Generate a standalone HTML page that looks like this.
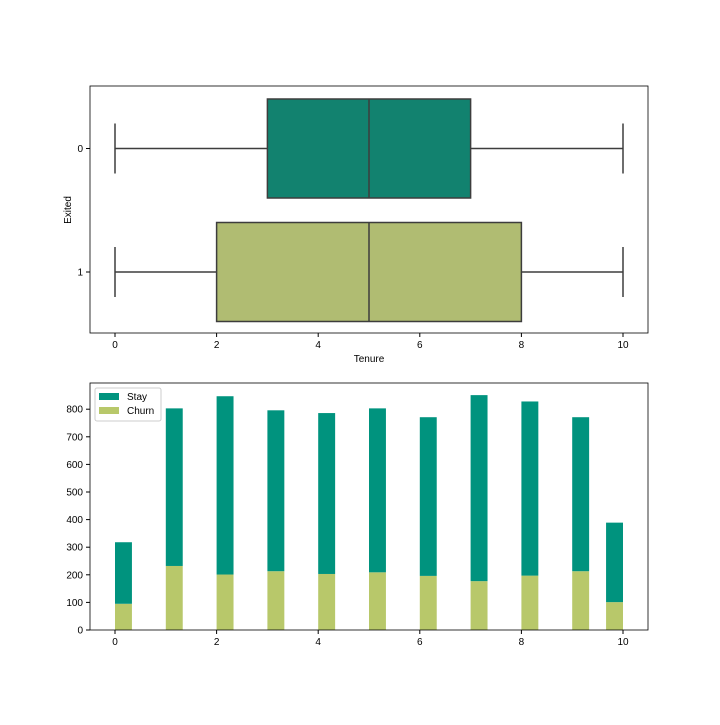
<!DOCTYPE html>
<html><head><meta charset="utf-8"><style>
body{margin:0;background:#fff;}
svg text{font-family:"Liberation Sans","DejaVu Sans",sans-serif;font-size:10px;fill:#000;}
</style></head><body>
<svg id="c" width="720" height="720" xmlns="http://www.w3.org/2000/svg"></svg>
<script>
const tenureCats=[0,1,2,3,4,5,6,7,8,9,10];
const stayVals=[223,571,646,583,583,594,575,674,631,558,288];
const churnVals=[95,232,201,213,203,209,196,177,197,213,101];
const boxGroups=["0","1"];
const boxQ1=[3,2], boxMed=[5,5], boxQ3=[7,8], boxMin=[0,0], boxMax=[10,10];
const xTicks=[0,2,4,6,8,10];
const yTicks=[0,100,200,300,400,500,600,700,800];

const NS="http://www.w3.org/2000/svg";
const svg=document.getElementById('c');
function mk(tag,a,p){const e=document.createElementNS(NS,tag);for(const k in a)e.setAttribute(k,a[k]);(p||svg).appendChild(e);return e;}
const X=v=>115+v*50.8;
const Yb=i=>148.5+i*123.5;
boxGroups.forEach((g,i)=>{
  const cy=Yb(i), col=i==0?'#12826f':'#b0bc72';
  const grp=mk('g',{});
  
  
  const st={stroke:'#3d3d3d','stroke-width':1.5,fill:'none'};
  mk('line',Object.assign({x1:X(boxMin[i]),x2:X(boxQ1[i]),y1:cy,y2:cy},st),grp);
  mk('line',Object.assign({x1:X(boxQ3[i]),x2:X(boxMax[i]),y1:cy,y2:cy},st),grp);
  mk('line',Object.assign({x1:X(boxMin[i]),x2:X(boxMin[i]),y1:cy-25,y2:cy+25},st),grp);
  mk('line',Object.assign({x1:X(boxMax[i]),x2:X(boxMax[i]),y1:cy-25,y2:cy+25},st),grp);
  mk('rect',{x:X(boxQ1[i]),y:cy-49.5,width:X(boxQ3[i])-X(boxQ1[i]),height:99,fill:col,stroke:'#3d3d3d','stroke-width':1.5},grp);
  mk('line',Object.assign({x1:X(boxMed[i]),x2:X(boxMed[i]),y1:cy-49.5,y2:cy+49.5},st),grp);
  mk('line',{x1:86,x2:90,y1:cy,y2:cy,stroke:'#000'});
  const tx=mk('text',{x:83,y:cy+3.5,'text-anchor':'end'});tx.textContent=g;
});
const f1=mk('rect',{x:90,y:86,width:558,height:247,fill:'none',stroke:'#000','stroke-width':0.8});


xTicks.forEach(v=>{mk('line',{x1:X(v),x2:X(v),y1:333,y2:337,stroke:'#000'});const tx=mk('text',{x:X(v),y:348,'text-anchor':'middle'});tx.textContent=v;});
let lbl=mk('text',{x:369,y:362,'text-anchor':'middle'});lbl.textContent='Tenure';


lbl=mk('text',{x:71,y:210,'text-anchor':'middle',transform:'rotate(-90 71 210)'});lbl.textContent='Exited';


const Y=v=>630-v*0.276;
tenureCats.forEach((c,i)=>{
  const left=c<10?X(c):X(c-1/3), w=50.8/3;
  const r1=mk('rect',{x:left,y:Y(churnVals[i]),width:w,height:630-Y(churnVals[i]),fill:'#b8c86a'});
  
  
  const tot=churnVals[i]+stayVals[i];
  const r2=mk('rect',{x:left,y:Y(tot),width:w,height:Y(churnVals[i])-Y(tot),fill:'#00937e'});
  
  
});
const f2=mk('rect',{x:90,y:383,width:558,height:247,fill:'none',stroke:'#000','stroke-width':0.8});


xTicks.forEach(v=>{mk('line',{x1:X(v),x2:X(v),y1:630,y2:634,stroke:'#000'});const tx=mk('text',{x:X(v),y:645,'text-anchor':'middle'});tx.textContent=v;});
yTicks.forEach(v=>{mk('line',{x1:86,x2:90,y1:Y(v),y2:Y(v),stroke:'#000'});const tx=mk('text',{x:83,y:Y(v)+3.5,'text-anchor':'end'});tx.textContent=v;});
const lg=mk('g',{});


mk('rect',{x:95,y:388,width:66,height:33,fill:'#fff',stroke:'#ccc',rx:2},lg);
mk('rect',{x:99,y:393,width:20,height:7,fill:'#00937e'},lg);
mk('rect',{x:99,y:407,width:20,height:7,fill:'#b8c86a'},lg);
lbl=mk('text',{x:127,y:400},lg);lbl.textContent='Stay';
lbl=mk('text',{x:127,y:414},lg);lbl.textContent='Churn';
</script>
</body></html>
